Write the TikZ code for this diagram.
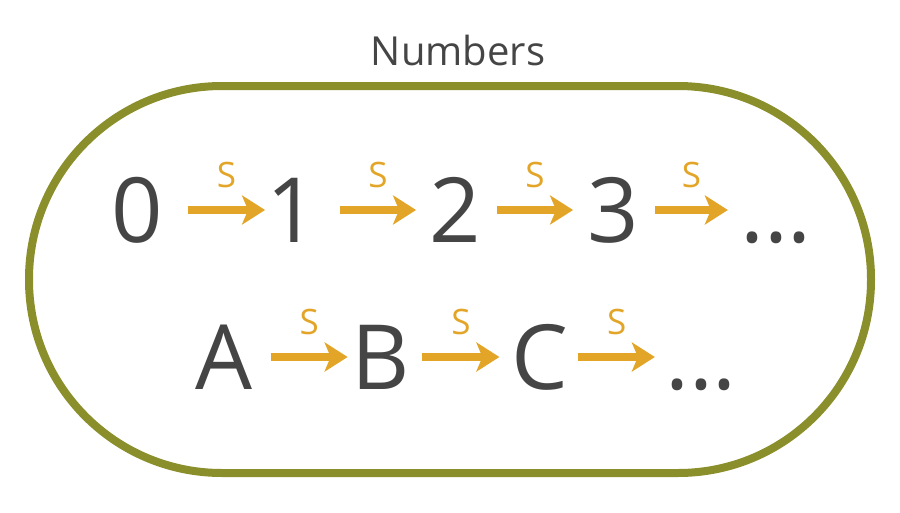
\documentclass[tikz,border=0pt]{standalone}
\usepackage{fontspec}
\setmainfont{Open Sans}
\usepackage{tikz}
\usetikzlibrary{arrows.meta}
\definecolor{textgray}{HTML}{454545}
\definecolor{succorange}{HTML}{E3A527}
\definecolor{setgreen}{HTML}{8A8F2B}

\begin{document}
\begin{tikzpicture}[x=1pt,y=-1pt,
    elem/.style={inner sep=0pt,anchor=base,text height=64pt,text depth=0pt,
      text=textgray,font=\fontsize{90}{90}\selectfont},
    succ/.style 2 args={draw=succorange,line width=8pt,
      -{Stealth[length=23pt,width=29pt,inset=6pt]},
      shorten <=#1pt,shorten >=#2pt},
    slabel/.style={above=18pt,inner sep=0pt,text=succorange,
      font=\fontsize{35}{35}\selectfont}]
    \useasboundingbox (0,0) rectangle (900,512);
    % the set
    \draw [setgreen,line width=8pt,rounded corners=193pt] (29,86) rectangle (871,473);
    \node [anchor=base,inner sep=0pt,text=textgray,font=\fontsize{40}{40}\selectfont]
      (title) at (458,65) {Numbers};
    % numbers
    \node [elem] (n0) at (137,242) {0};
    \node [elem] (n1) at (292,242) {1};
    \node [elem] (n2) at (455,242) {2};
    \node [elem] (n3) at (613,242) {3};
    \node [elem] (ndots) at (776,242) {...};
    % letters
    \node [elem] (la) at (224,389) {A};
    \node [elem] (lb) at (381,389) {B};
    \node [elem] (lc) at (540,389) {C};
    \node [elem] (ldots) at (701,389) {...};
    % successor arrows
    \draw [succ={25}{1}] (n0.east) -- node [slabel,xshift=12pt] {S} (n1.west);
    \draw [succ={22}{13}] (n1.east) -- node [slabel,xshift=4.5pt] {S} (n2.west);
    \draw [succ={16}{14}] (n2.east) -- node [slabel,xshift=1pt] {S} (n3.west);
    \draw [succ={16}{12}] (n3.east) -- node [slabel,xshift=2pt] {S} (ndots.west);
    \draw [succ={18}{4}] (la.east) -- node [slabel,xshift=7pt] {S} (lb.west);
    \draw [succ={12}{12}] (lb.east) -- node [slabel] {S} (lc.west);
    \draw [succ={9}{10}] (lc.east) -- node [slabel] {S} (ldots.west);
\end{tikzpicture}
\end{document}
